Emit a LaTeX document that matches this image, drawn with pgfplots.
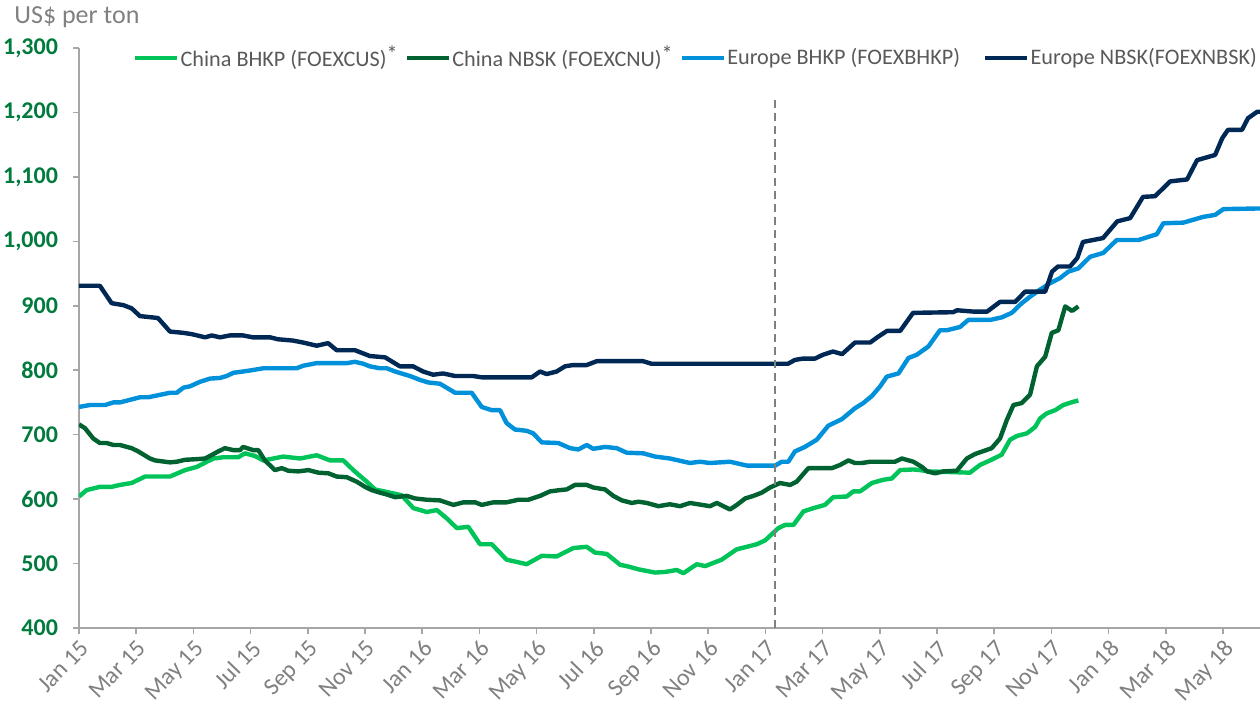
\documentclass[border=0pt]{standalone}
\usepackage{fontspec}
\setmainfont{Carlito}
\usepackage{pgfplots}
\pgfplotsset{compat=1.18}
\definecolor{cbhkp}{RGB}{0,196,89}
\definecolor{cnbsk}{RGB}{0,98,48}
\definecolor{ebhkp}{RGB}{0,145,218}
\definecolor{enbsk}{RGB}{0,40,85}
\definecolor{tickgreen}{RGB}{0,122,61}
\definecolor{axgray}{RGB}{166,166,166}
\definecolor{lblgray}{RGB}{128,128,128}
\definecolor{txtgray}{RGB}{89,89,89}
\begin{document}
\begin{tikzpicture}
\begin{axis}[
    at={(0,0)}, anchor=south west,
    scale only axis,
    width=590.5pt, height=290pt,
    xmin=0, xmax=41.29,
    ymin=400, ymax=1300,
    axis x line=bottom, axis y line=left,
    axis line style={-, axgray, line width=0.8pt},
    tick style={axgray, line width=0.8pt},
    tick align=outside,
    major tick length=3pt,
    xtick={0,2,...,40},
    xticklabels={Jan 15,Mar 15,May 15,Jul 15,Sep 15,Nov 15,Jan 16,Mar 16,May 16,Jul 16,Sep 16,Nov 16,Jan 17,Mar 17,May 17,Jul 17,Sep 17,Nov 17,Jan 18,Mar 18,May 18},
    xticklabel style={rotate=46, anchor=north east, text=lblgray, font=\fontsize{12}{13}\selectfont, inner sep=1.5pt},
    ytick={400,500,...,1300},
    yticklabels={400,500,600,700,800,900,{1,000},{1,100},{1,200},{1,300}},
    yticklabel style={text=tickgreen, font=\fontsize{12}{13}\selectfont\bfseries, xshift=-4pt},
    legend columns=4,
    legend style={at={(0.04,0.983)}, anchor=west, draw=none, fill=none,
        font=\fontsize{11.1}{13}\selectfont, text=txtgray,
        nodes={inner sep=0.8pt},
        /tikz/every even column/.append style={column sep=2.5pt}},
    legend image code/.code={\draw[#1, line width=2.2pt] (0pt,0pt) -- (21pt,0pt);},
    every axis plot/.append style={line width=2.2pt, line join=round},
]
\addplot[cbhkp] coordinates {
(0,604) (0.27,614) (0.73,619) (1.14,619) (1.43,622) (1.84,625) (2.31,635) (3.18,635)
(3.71,645) (4.12,650) (4.47,658) (4.7,663) (5.05,665) (5.57,665) (5.8,671) (6.15,667)
(6.44,660) (6.68,662) (7.14,666) (7.73,663) (8.31,668) (8.78,660) (9.24,660) (9.59,645)
(10.06,627) (10.35,615) (10.87,610) (11.28,606) (11.69,586) (12.16,580) (12.51,583)
(12.86,570) (13.21,555) (13.61,557) (14.02,530) (14.43,530) (14.95,506) (15.65,499)
(16.18,512) (16.7,511) (17.28,524) (17.75,526) (18.04,517) (18.45,515) (18.92,498)
(19.15,496) (19.56,491) (20.14,486) (20.49,487) (20.9,490) (21.13,485) (21.6,499)
(21.89,496) (22.47,506) (22.99,522) (23.35,526) (23.7,530) (23.99,536) (24.45,555)
(24.69,560) (24.98,560) (25.33,581) (25.68,586) (26.08,591) (26.37,603) (26.84,604)
(27.07,612) (27.31,612) (27.72,625) (28.12,630) (28.42,632) (28.71,645) (29.17,646)
(29.41,645) (29.7,643) (31.15,641) (31.5,653) (31.85,660) (32.26,669) (32.55,692)
(32.79,698) (33.14,702) (33.43,712) (33.6,725) (33.83,733) (34.13,738) (34.41,746)
(34.76,751) (34.94,753)
};
\addlegendentry{China BHKP (FOEXCUS)\raisebox{0.5ex}{*}}
\addplot[cnbsk] coordinates {
(0,716) (0.21,710) (0.5,694) (0.73,687) (0.97,687) (1.2,684) (1.43,684) (1.84,679)
(2.07,674) (2.48,663) (2.66,660) (3.18,657) (3.42,658) (3.71,661) (4.12,662) (4.41,663)
(4.58,667) (4.87,674) (5.1,679) (5.4,676) (5.63,676) (5.74,681) (6.09,676) (6.27,676)
(6.5,660) (6.85,645) (7.09,648) (7.32,644) (7.67,643) (8.02,645) (8.37,641) (8.72,640)
(9.01,635) (9.36,634) (9.71,627) (10,619) (10.23,614) (10.52,610) (10.7,608) (11.05,603)
(11.46,605) (11.75,601) (12.16,599) (12.62,598) (13.09,591) (13.44,595) (13.85,595)
(14.08,591) (14.49,595) (14.95,595) (15.36,599) (15.71,599) (16.12,605) (16.47,612)
(16.82,614) (17.05,615) (17.34,622) (17.75,622) (17.98,618) (18.39,615) (18.68,605)
(18.98,598) (19.33,594) (19.56,596) (19.85,594) (20.26,589) (20.66,592) (21.01,589)
(21.36,594) (22.06,589) (22.3,594) (22.76,584) (23.0,591) (23.29,601) (23.58,605)
(23.87,610) (24.16,618) (24.51,625) (24.86,622) (25.09,627) (25.5,648) (26.32,648)
(26.61,653) (26.9,660) (27.13,656) (27.37,656) (27.66,658) (28.53,658) (28.77,663)
(29.17,658) (29.47,650) (29.65,643) (29.93,640) (30.22,643) (30.69,644) (31.04,663)
(31.33,670) (31.91,679) (32.2,694) (32.44,723) (32.67,746) (32.96,749) (33.25,762)
(33.49,806) (33.78,821) (34.01,858) (34.24,862) (34.48,899) (34.72,892) (34.94,899)
};
\addlegendentry{China NBSK (FOEXCNU)\raisebox{0.5ex}{*}}
\addplot[ebhkp] coordinates {
(0,743) (0.38,746) (0.91,746) (1.2,750) (1.43,750) (2.13,758) (2.42,758) (3.18,765)
(3.42,765) (3.65,773) (3.88,775) (4.23,782) (4.58,787) (4.93,788) (5.16,791) (5.4,796)
(5.74,798) (6.04,800) (6.44,803) (7.61,803) (7.84,807) (8.31,811) (9.36,811) (9.65,813)
(9.94,810) (10.17,806) (10.52,803) (10.76,803) (11.05,798) (11.57,791) (11.92,785)
(12.21,781) (12.62,779) (13.15,765) (13.73,765) (14.08,743) (14.43,738) (14.72,738)
(14.95,718) (15.24,708) (15.65,706) (15.88,702) (16.18,688) (16.76,687) (17.17,679)
(17.46,677) (17.75,684) (17.98,678) (18.39,681) (18.8,679) (19.15,672) (19.73,671)
(20.14,666) (20.66,663) (21.36,656) (21.71,658) (22.06,656) (22.76,658) (23.35,652)
(24.34,652) (24.57,658) (24.8,658) (25.03,674) (25.38,681) (25.79,692) (26.2,714)
(26.67,724) (27.13,741) (27.42,749) (27.72,760) (28.01,775) (28.24,790) (28.65,795)
(29.0,819) (29.29,824) (29.7,837) (30.1,862) (30.34,862) (30.8,867) (31.09,878)
(31.85,878) (32.26,882) (32.61,889) (32.96,904) (33.25,914) (33.6,925) (33.95,935)
(34.3,943) (34.59,953) (34.94,958) (35.35,976) (35.81,982) (36.28,1002) (37.04,1002)
(37.68,1011) (37.91,1028) (38.61,1029) (39.31,1038) (39.72,1041) (40.01,1050) (41.29,1051)
};
\addlegendentry{Europe BHKP (FOEXBHKP)\hspace*{8pt}}
\addplot[enbsk] coordinates {
(0,931) (0.73,931) (1.14,904) (1.55,901) (1.84,896) (2.13,884) (2.76,881) (3.18,860)
(3.64,858) (3.94,856) (4.41,851) (4.64,854) (4.93,851) (5.28,854) (5.73,854) (6.08,851)
(6.68,851) (6.96,848) (7.48,846) (7.83,843) (8.31,838) (8.71,842) (9.01,831) (9.65,831)
(9.88,827) (10.17,822) (10.7,820) (11.22,806) (11.68,806) (12.03,798) (12.38,793)
(12.73,795) (13.15,791) (13.78,791) (14.08,789) (15.83,789) (16.12,798) (16.35,794)
(16.7,798) (16.99,806) (17.27,808) (17.75,808) (18.1,814) (19.72,814) (20.02,810)
(24.79,810) (25.03,816) (25.31,818) (25.73,818) (26.01,824) (26.36,829) (26.68,825)
(27.13,843) (27.66,843) (27.94,852) (28.25,861) (28.71,861) (29.16,889) (30.56,890)
(30.7,893) (31.26,891) (31.75,891) (32.2,906) (32.73,906) (33.08,922) (33.78,922)
(34.02,953) (34.23,961) (34.65,961) (34.9,974) (35.1,999) (35.8,1005) (36.3,1031)
(36.75,1036) (37.2,1069) (37.62,1070) (38.15,1093) (38.74,1096) (39.09,1126)
(39.72,1134) (39.97,1160) (40.17,1173) (40.66,1173) (40.87,1191) (41.19,1201) (41.29,1201)
};
\addlegendentry{Europe NBSK(FOEXNBSK)}
\addplot[lblgray, line width=1.1pt, dash pattern=on 4pt off 2.5pt, forget plot] coordinates {(24.34,400) (24.34,1220)};
\end{axis}
\node[anchor=west, text=lblgray, font=\fontsize{13}{15}\selectfont, inner sep=0pt] at (-32.5pt,305.5pt) {US\$ per ton};
\pgfresetboundingbox
\path[use as bounding box] (-39.5pt,-38.5pt) rectangle (590.5pt,314pt);
\end{tikzpicture}
\end{document}
